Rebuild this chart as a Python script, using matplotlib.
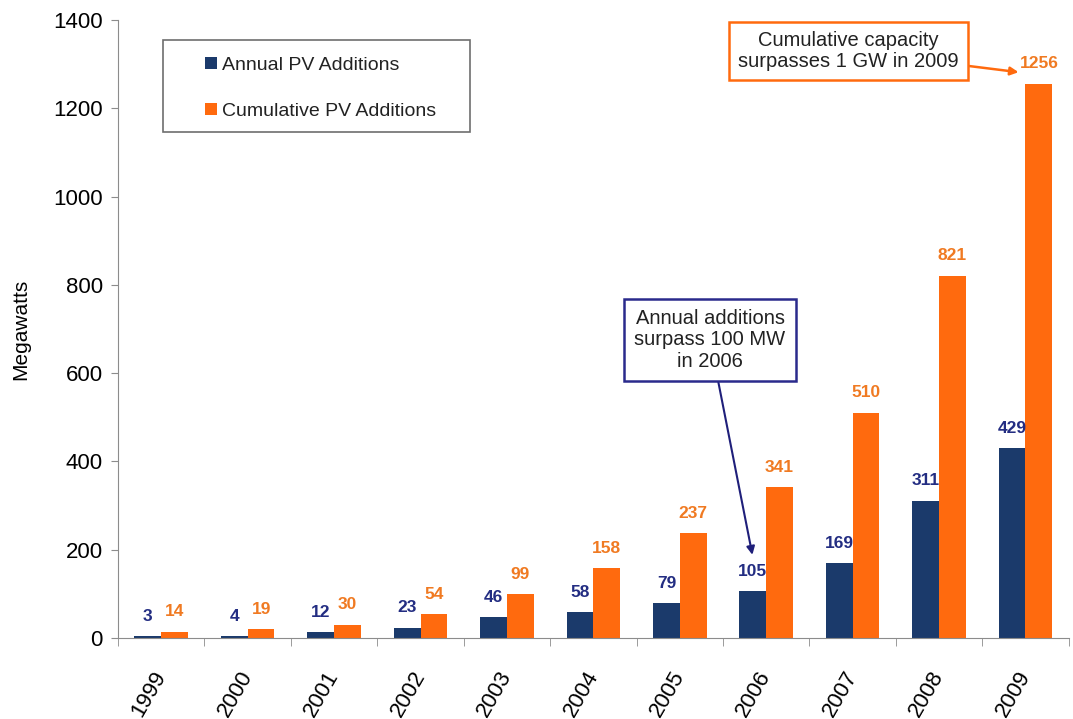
import matplotlib.pyplot as plt
import matplotlib.patches as mpatches
import numpy as np

# ---------------------------------------------------------------------------- #
# DATA

years = ["1999", "2000", "2001", "2002", "2003", "2004",
         "2005", "2006", "2007", "2008", "2009"]
annual = [3, 4, 12, 23, 46, 58, 79, 105, 169, 311, 429]
cumulative = [14, 19, 30, 54, 99, 158, 237, 341, 510, 821, 1256]

# ---------------------------------------------------------------------------- #
# STYLE

plt.rcParams['font.family'] = ['Liberation Sans', 'DejaVu Sans']
navy = "#1B3A6B"
orange = "#FF6A0E"
navy_txt = "#232D82"
orange_txt = "#F07A22"
grey = "#8C8C8C"

fig = plt.figure(figsize=(10.73, 7.19), dpi=100)
ax = fig.add_axes([0.110, 0.113, 0.886, 0.859])

x = np.arange(len(years))
w = 0.31
ax.bar(x - w / 2, annual, w, color=navy, label="Annual PV Additions")
ax.bar(x + w / 2, cumulative, w, color=orange, label="Cumulative PV Additions")

# value labels
for xi, a, c in zip(x, annual, cumulative):
    ax.text(xi - w / 2, a + 28, str(a), ha='center', va='bottom',
            color=navy_txt, fontsize=12.5, fontweight='bold')
    ax.text(xi + w / 2, c + 28, str(c), ha='center', va='bottom',
            color=orange_txt, fontsize=12.5, fontweight='bold')

# axes
ax.set_xlim(-0.5, len(years) - 0.5)
ax.set_ylim(0, 1400)
ax.set_yticks(np.arange(0, 1401, 200))
ax.set_xticks(x)
ax.set_xticklabels(years, rotation=60, ha='right', va='center',
                   rotation_mode='anchor', fontsize=16)
ax.set_xticks(np.arange(-0.5, len(years), 1), minor=True)
ax.tick_params(axis='x', which='major', length=0, pad=25)
ax.tick_params(axis='x', which='minor', length=6, color=grey, direction='out')
ax.tick_params(axis='y', labelsize=16, length=5, color=grey, direction='out',
               pad=6)
ax.set_ylabel("Megawatts", fontsize=15)
ax.yaxis.set_label_coords(-0.092, 0.5)
for side in ['top', 'right']:
    ax.spines[side].set_visible(False)
ax.spines['left'].set_color(grey)
ax.spines['bottom'].set_color(grey)

# legend (frame drawn separately so it can be wider than the entries)
leg = ax.legend(loc='upper left', bbox_to_anchor=(0.0916, 0.941),
                fontsize=14, frameon=False,
                handlelength=0.6, handleheight=0.6, handletextpad=0.25,
                labelspacing=1.5, borderpad=0, borderaxespad=0)
for t in leg.get_texts():
    t.set_color("#222222")
ax.add_patch(mpatches.Rectangle((0.047, 0.8188), 0.3235, 0.1488,
                                transform=ax.transAxes, fill=False,
                                ec="#6E6E6E", lw=1.2, clip_on=False))

# annotations
ax.annotate("Annual additions\nsurpass 100 MW\nin 2006",
            xy=(6.84, 188), xytext=(6.35, 675),
            ha='center', va='center', fontsize=14.5, color="#222222",
            linespacing=1.15,
            bbox=dict(boxstyle='square,pad=0.5', fc='white',
                      ec="#2A2A8C", lw=1.8),
            arrowprops=dict(arrowstyle='-|>', color="#1F1F7A", lw=1.5,
                            shrinkA=0, shrinkB=0, mutation_scale=12))
ax.annotate("Cumulative capacity\nsurpasses 1 GW in 2009",
            xy=(9.92, 1282), xytext=(7.95, 1330),
            ha='center', va='center', fontsize=14.5, color="#222222",
            linespacing=1.15,
            bbox=dict(boxstyle='square,pad=0.45', fc='white',
                      ec=orange, lw=1.8),
            arrowprops=dict(arrowstyle='-|>', color=orange, lw=1.8,
                            shrinkA=0, shrinkB=0, mutation_scale=12))

fig.savefig("out.png", dpi=100)

# end of file #
